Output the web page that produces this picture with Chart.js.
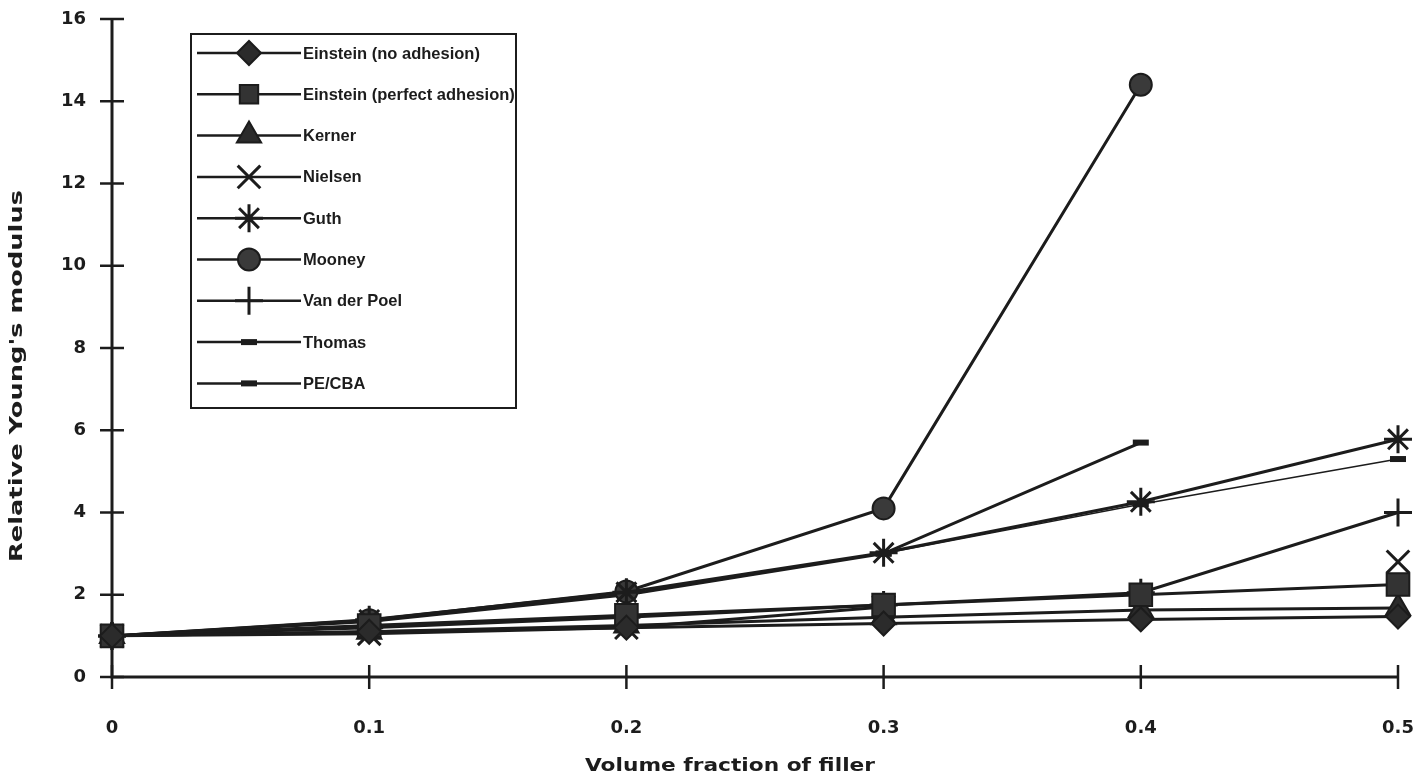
<!DOCTYPE html>
<html>
<head>
<meta charset="utf-8">
<script src="https://cdn.jsdelivr.net/npm/chart.js@4.4.1/dist/chart.umd.min.js"></script>
<style>
  html, body { margin: 0; padding: 0; background: #fff; }
  #wrap { width: 1421px; height: 782px; }
</style>
</head>
<body>
<div id="wrap"><canvas id="modulusChart"></canvas></div>
<script>
// volume fraction of filler (x) and relative Young's modulus per model
const fractions = [0, 0.1, 0.2, 0.3, 0.4, 0.5];
const einsteinNoAdhesion = [1, 1.1, 1.2, 1.3, 1.4, 1.47];
const einsteinPerfect = [1, 1.25, 1.5, 1.75, 2.0, 2.25];
const kerner = [1, 1.1, 1.25, 1.45, 1.63, 1.68];
const nielsen = [1, 1.05, 1.2, 1.7, null, 2.8];
const guth = [1, 1.39, 2.06, 3.02, 4.26, 5.78];
const mooney = [1, 1.38, 2.08, 4.1, 14.4, null];
const vanDerPoel = [1, 1.2, 1.45, 1.75, 2.05, 4.0];
const thomas = [1, 1.35, 2.0, 3.0, 5.7, null];
const peCba = [1, 1.35, 2.0, 3.0, 4.2, 5.3];

const yTicks = [0, 2, 4, 6, 8, 10, 12, 14, 16];
const xTitle = 'Volume fraction of filler';
const yTitle = "Relative Young's modulus";

const ink = '#1c1c1c';

function pts(values) {
  return fractions.map((x, i) => ({ x: x, y: values[i] }));
}

function series(label, values, style, radius, extra) {
  return Object.assign({
    label: label,
    data: pts(values),
    borderColor: ink,
    borderWidth: 3,
    pointStyle: style,
    pointRadius: radius,
    pointHoverRadius: radius,
    pointBackgroundColor: '#2b2b2b',
    pointBorderColor: ink,
    pointBorderWidth: 2,
    fill: false,
    tension: 0,
    spanGaps: false,
    clip: false
  }, extra || {});
}

const datasets = [
  series('Einstein (no adhesion)', einsteinNoAdhesion, 'rectRot', 12),
  series('Einstein (perfect adhesion)', einsteinPerfect, 'rect', 16, { pointBackgroundColor: '#333' }),
  series('Kerner', kerner, 'triangle', 14),
  series('Nielsen', nielsen, 'crossRot', 16, { pointBorderWidth: 3 }),
  series('Guth', guth, 'star', 14, { pointBorderWidth: 3 }),
  series('Mooney', mooney, 'circle', 11, { pointBackgroundColor: '#3a3a3a' }),
  series('Van der Poel', vanDerPoel, 'cross', 14, { pointBorderWidth: 3 }),
  series('Thomas', thomas, 'line', 8, { pointBorderWidth: 6 }),
  series('PE/CBA', peCba, 'line', 8, { pointBorderWidth: 6, borderWidth: 1.5 })
];

// text drawn wide, the way the scanned figure shows it
function wideText(ctx, text, x, y, length, angle) {
  ctx.save();
  ctx.translate(x, y);
  ctx.rotate(angle);
  ctx.scale(length / ctx.measureText(text).width, 1);
  ctx.fillText(text, 0, 0);
  ctx.restore();
}

// axis lines with ticks crossing them, plus the axis titles
const framePlugin = {
  id: 'frame',
  beforeDatasetsDraw(chart) {
    const { ctx, chartArea: a, scales: { x, y } } = chart;
    ctx.save();
    ctx.strokeStyle = ink;
    ctx.lineWidth = 3;
    ctx.beginPath();
    ctx.moveTo(a.left, a.top);
    ctx.lineTo(a.left, a.bottom);
    ctx.lineTo(a.right, a.bottom);
    ctx.stroke();
    ctx.lineWidth = 2.5;
    y.ticks.forEach(t => {
      const py = y.getPixelForValue(t.value);
      ctx.beginPath();
      ctx.moveTo(a.left - 12, py);
      ctx.lineTo(a.left + 12, py);
      ctx.stroke();
    });
    x.ticks.forEach(t => {
      const px = x.getPixelForValue(t.value);
      ctx.beginPath();
      ctx.moveTo(px, a.bottom - 12);
      ctx.lineTo(px, a.bottom + 12);
      ctx.stroke();
    });
    ctx.fillStyle = ink;
    ctx.font = 'bold 17px "DejaVu Sans"';
    ctx.textAlign = 'center';
    ctx.textBaseline = 'middle';
    wideText(ctx, xTitle, (a.left + a.right) / 2 - 25, 767, 290, 0);
    wideText(ctx, yTitle, 18, (a.top + a.bottom) / 2 + 28, 372, -Math.PI / 2);
    ctx.restore();
  }
};

// boxed legend sitting inside the plot area
const legendPlugin = {
  id: 'boxLegend',
  afterDraw(chart) {
    const { ctx } = chart;
    const box = { left: 191, top: 34, right: 516, bottom: 408 };
    const rowH = 41.3;
    ctx.save();
    ctx.fillStyle = '#fff';
    ctx.strokeStyle = ink;
    ctx.lineWidth = 2;
    ctx.fillRect(box.left, box.top, box.right - box.left, box.bottom - box.top);
    ctx.strokeRect(box.left, box.top, box.right - box.left, box.bottom - box.top);
    chart.data.datasets.forEach((ds, i) => {
      const cy = box.top + 19 + i * rowH;
      ctx.strokeStyle = ink;
      ctx.lineWidth = 2.5;
      ctx.beginPath();
      ctx.moveTo(box.left + 6, cy);
      ctx.lineTo(box.left + 110, cy);
      ctx.stroke();
      ctx.fillStyle = ds.pointBackgroundColor;
      ctx.strokeStyle = ds.pointBorderColor;
      ctx.lineWidth = ds.pointBorderWidth;
      Chart.helpers.drawPoint(ctx, {
        pointStyle: ds.pointStyle,
        radius: ds.pointStyle === 'rect' ? 13 : ds.pointRadius,
        rotation: 0,
        borderWidth: ds.pointBorderWidth
      }, box.left + 58, cy);
      ctx.fillStyle = ink;
      ctx.font = 'bold 16.5px "Liberation Sans"';
      ctx.textAlign = 'left';
      ctx.textBaseline = 'middle';
      ctx.fillText(ds.label, box.left + 112, cy + 1);
    });
    ctx.restore();
  }
};

new Chart(document.getElementById('modulusChart'), {
  type: 'line',
  data: { datasets: datasets },
  plugins: [framePlugin, legendPlugin],
  options: {
    responsive: true,
    maintainAspectRatio: false,
    animation: false,
    events: [],
    layout: { padding: { top: 19, right: 23, left: 0, bottom: 0 } },
    plugins: { legend: { display: false }, tooltip: { enabled: false } },
    scales: {
      x: {
        type: 'linear',
        min: 0,
        max: 0.5,
        afterFit: s => { s.height = 105; s.paddingLeft = 0; s.paddingRight = 0; },
        afterBuildTicks: s => { s.ticks = fractions.map(v => ({ value: v })); },
        grid: { display: false, drawTicks: false },
        border: { display: false },
        ticks: {
          color: ink,
          padding: 41,
          font: { family: 'DejaVu Sans', size: 18, weight: 'bold' },
          callback: v => String(+v.toFixed(1))
        }
      },
      y: {
        type: 'linear',
        min: 0,
        max: 16,
        afterFit: s => { s.width = 112; s.paddingTop = 0; s.paddingBottom = 0; },
        afterBuildTicks: s => { s.ticks = yTicks.map(v => ({ value: v })); },
        grid: { display: false, drawTicks: false },
        border: { display: false },
        ticks: {
          color: ink,
          padding: 26,
          font: { family: 'DejaVu Sans', size: 18, weight: 'bold' }
        }
      }
    }
  }
});
</script>
</body>
</html>
